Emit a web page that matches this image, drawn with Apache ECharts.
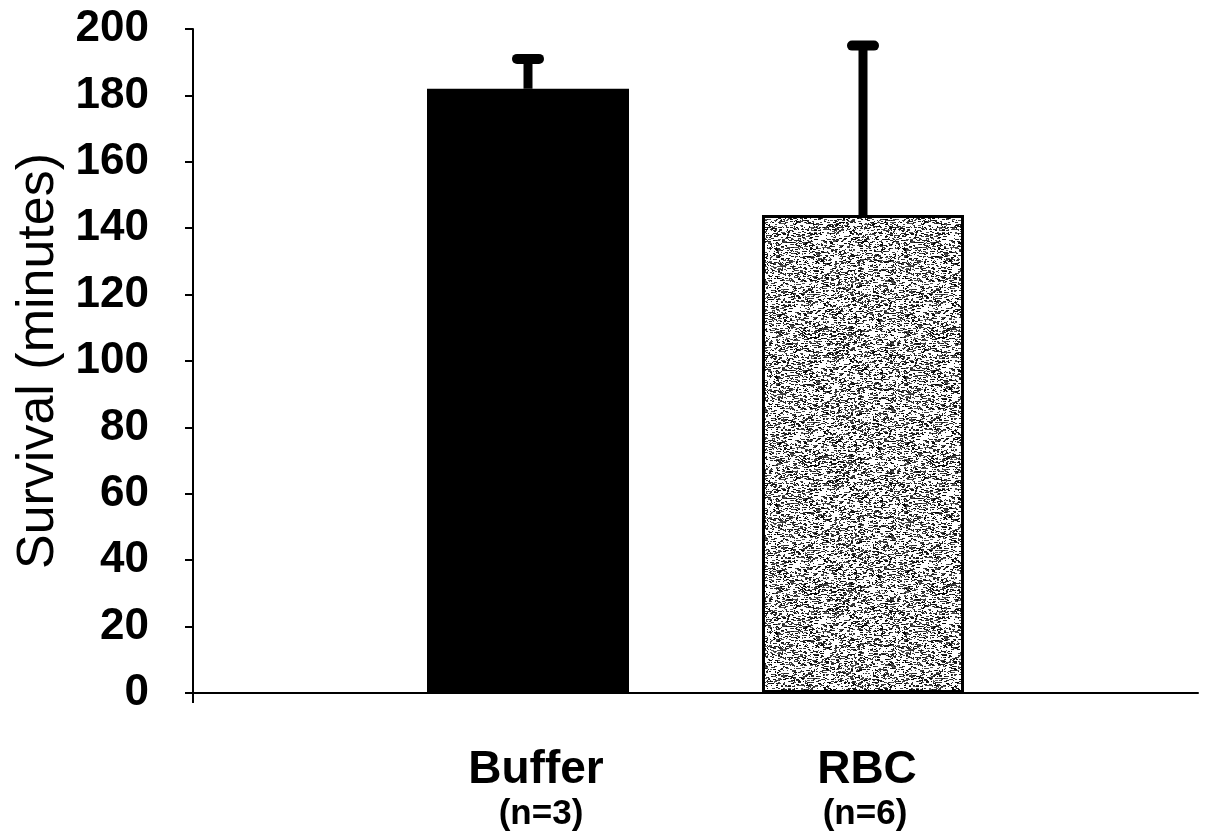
<!DOCTYPE html>
<html>
<head>
<meta charset="utf-8">
<script src="https://cdn.jsdelivr.net/npm/echarts@6/dist/echarts.min.js"></script>
<style>
  html, body { margin: 0; padding: 0; background: #fff; }
  #chart { width: 1208px; height: 834px; }
</style>
</head>
<body>
<div id="chart"></div>
<script>
// Group names, group sizes and survival statistics
const groups = ['Buffer', 'RBC'];
const groupN = [3, 6];
const meanSurvival = [182, 144];
const errorTop = [191, 195];
const yTicks = [0, 20, 40, 60, 80, 100, 120, 140, 160, 180, 200];

// Deterministic speckle texture for the RBC bar (short horizontal flecks)
function speckle() {
  const c = document.createElement('canvas');
  c.width = 128; c.height = 128;
  const g = c.getContext('2d');
  g.fillStyle = '#fff';
  g.fillRect(0, 0, 128, 128);
  let s = 24681;
  const next = () => { s = (s * 1103515245 + 12345) & 0x7fffffff; return s / 0x7fffffff; };
  for (let y = 0; y < 128; y++) {
    for (let x = 0; x < 128; x++) {
      if (next() < 0.22) {
        const v = Math.floor(next() * 90);
        g.fillStyle = `rgb(${v},${v},${v})`;
        g.fillRect(x, y, 1 + Math.floor(next() * 3), 1);
      }
    }
  }
  return c;
}

const positions = groups.map((_, i) => i + 1);
const barData = meanSurvival.map((v, i) => ({
  value: [positions[i], v],
  itemStyle: i === 0
    ? { color: '#000', borderColor: '#000', borderWidth: 2 }
    : { color: { image: speckle(), repeat: 'repeat' }, borderColor: '#000', borderWidth: 3 }
}));
const errData = meanSurvival.map((v, i) => [positions[i], v, errorTop[i]]);

const nameFont = { fontFamily: 'Liberation Sans', fontWeight: 'bold', fontSize: 46, lineHeight: 48, color: '#000' };
const nFont = { fontFamily: 'Liberation Sans', fontWeight: 'bold', fontSize: 35, lineHeight: 40, color: '#000' };

const chart = echarts.init(document.getElementById('chart'), null, { renderer: 'canvas' });
chart.setOption({
  backgroundColor: '#fff',
  animation: false,
  grid: { left: 193, right: 10, top: 29, bottom: 141, containLabel: false },
  xAxis: {
    type: 'value',
    min: 0,
    max: groups.length + 1,
    splitLine: { show: false },
    axisLine: { show: true, lineStyle: { color: '#000', width: 2 } },
    axisTick: { show: true, customValues: [0], length: 10, lineStyle: { color: '#000', width: 2 } },
    axisLabel: {
      customValues: positions,
      margin: 53,
      color: '#000',
      formatter: v => {
        const i = Math.round(v) - 1;
        return `{a${i}|${groups[i]}}\n{b${i}|(n=${groupN[i]})}`;
      },
      rich: {
        a0: Object.assign({ padding: [0, 0, 0, 16] }, nameFont),
        b0: Object.assign({ padding: [0, 0, 0, 26] }, nFont),
        a1: Object.assign({ padding: [0, 0, 0, 8] }, nameFont),
        b1: Object.assign({ padding: [0, 0, 0, 4] }, nFont)
      }
    }
  },
  yAxis: {
    type: 'value',
    min: yTicks[0],
    max: yTicks[yTicks.length - 1],
    interval: yTicks[1] - yTicks[0],
    name: 'Survival (minutes)',
    nameLocation: 'middle',
    nameGap: 127,
    nameTextStyle: { fontFamily: 'Liberation Sans', fontSize: 52, color: '#000' },
    splitLine: { show: false },
    axisLine: { show: true, lineStyle: { color: '#000', width: 2 } },
    axisTick: { show: true, inside: false, length: 8, lineStyle: { color: '#000', width: 2 } },
    axisLabel: {
      margin: 44,
      color: '#000',
      fontFamily: 'Liberation Sans',
      fontWeight: 'bold',
      fontSize: 44
    }
  },
  series: [
    {
      type: 'bar',
      barWidth: 202,
      data: barData,
      z: 2
    },
    {
      type: 'custom',
      z: 3,
      data: errData,
      renderItem: (params, api) => {
        const base = api.coord([api.value(0), api.value(1)]);
        const top = api.coord([api.value(0), api.value(2)]);
        return {
          type: 'group',
          children: [
            { type: 'line', shape: { x1: base[0], y1: base[1], x2: top[0], y2: top[1] },
              style: { stroke: '#000', lineWidth: 9 } },
            { type: 'line', shape: { x1: top[0] - 11, y1: top[1], x2: top[0] + 11, y2: top[1] },
              style: { stroke: '#000', lineWidth: 10, lineCap: 'round' } }
          ]
        };
      }
    }
  ]
});
</script>
</body>
</html>
